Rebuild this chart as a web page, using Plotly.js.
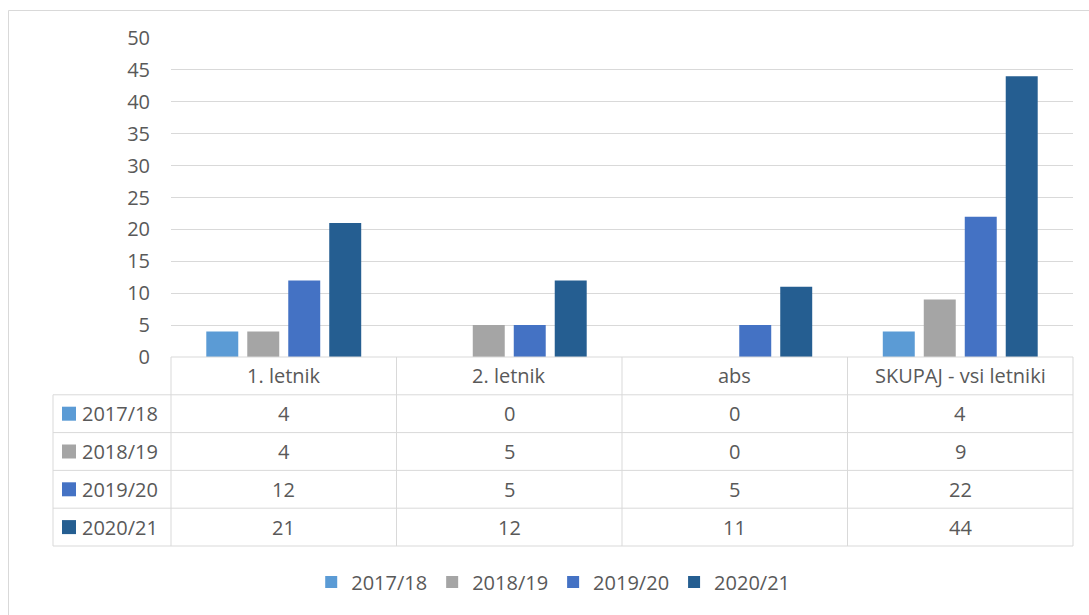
<!DOCTYPE html>
<html>
<head>
<meta charset="utf-8">
<script src="https://cdn.plot.ly/plotly-3.0.1.min.js"></script>
<style>html,body{margin:0;padding:0;background:#fff;}#chart{width:1089px;height:615px;}</style>
</head>
<body>
<div id="chart"></div>
<script>
const categories = ["1. letnik", "2. letnik", "abs", "SKUPAJ - vsi letniki"];
const seriesNames = ["2017/18", "2018/19", "2019/20", "2020/21"];
const v2017 = [4, 0, 0, 4];
const v2018 = [4, 5, 0, 9];
const v2019 = [12, 5, 5, 22];
const v2020 = [21, 12, 11, 44];
const seriesValues = [v2017, v2018, v2019, v2020];
const colors = ["#5B9BD5", "#A5A5A5", "#4472C4", "#255E91"];

const W = 1089, H = 615;
const px = x => x / W;
const py = y => 1 - y / H;
const textColor = "#595959";
const gridColor = "#D9D9D9";
const FONT = "Open Sans, Liberation Sans, sans-serif";
const FS = 20;

// geometry of plot/table (pixels)
const plotL = 171, plotR = 1073, plotT = 38, plotB = 357;
const tableL = 53, rowH = 37.8;
const catW = (plotR - plotL) / categories.length;

const traces = seriesNames.map((name, i) => ({
  type: "bar",
  name: name,
  x: categories,
  y: seriesValues[i],
  marker: {color: colors[i]},
  hoverinfo: "x+y+name"
}));

const shapes = [];
const annotations = [];
const line = {color: gridColor, width: 1};
// outer chart border
shapes.push({type: "rect", xref: "paper", yref: "paper", x0: px(8.5), x1: px(1100), y0: py(10.5), y1: py(630), line: {color: gridColor, width: 1}});
// table horizontal lines
shapes.push({type: "line", xref: "paper", yref: "paper", x0: px(plotL), x1: px(plotR), y0: py(plotB), y1: py(plotB), line});
for (let r = 1; r <= seriesNames.length + 1; r++) {
  const y = plotB + r * rowH;
  shapes.push({type: "line", xref: "paper", yref: "paper", x0: px(tableL), x1: px(plotR), y0: py(y), y1: py(y), line});
}
const tableB = plotB + (seriesNames.length + 1) * rowH;
// vertical lines
shapes.push({type: "line", xref: "paper", yref: "paper", x0: px(tableL), x1: px(tableL), y0: py(plotB + rowH), y1: py(tableB), line});
for (let c = 0; c <= categories.length; c++) {
  const x = plotL + c * catW;
  shapes.push({type: "line", xref: "paper", yref: "paper", x0: px(x), x1: px(x), y0: py(plotB), y1: py(tableB), line});
}
// header text
categories.forEach((cat, c) => {
  annotations.push({xref: "paper", yref: "paper", x: px(plotL + (c + 0.5) * catW), y: py(plotB + rowH / 2),
    text: cat, showarrow: false, xanchor: "center", yanchor: "middle", font: {family: FONT, size: FS, color: textColor}});
});
// rows
seriesNames.forEach((name, r) => {
  const yc = plotB + (r + 1.5) * rowH;
  shapes.push({type: "rect", xref: "paper", yref: "paper", x0: px(62), x1: px(76), y0: py(yc - 7), y1: py(yc + 7),
    fillcolor: colors[r], line: {width: 0}});
  annotations.push({xref: "paper", yref: "paper", x: px(80), y: py(yc), text: name, showarrow: false,
    xanchor: "left", yanchor: "middle", font: {family: FONT, size: FS, color: textColor}});
  seriesValues[r].forEach((v, c) => {
    annotations.push({xref: "paper", yref: "paper", x: px(plotL + (c + 0.5) * catW), y: py(yc), text: String(v),
      showarrow: false, xanchor: "center", yanchor: "middle", font: {family: FONT, size: FS, color: textColor}});
  });
});

const layout = {
  width: W, height: H,
  margin: {l: 0, r: 0, t: 0, b: 0},
  paper_bgcolor: "#fff", plot_bgcolor: "#fff",
  barmode: "group",
  bargap: 0.273,
  bargroupgap: 0.22,
  font: {family: FONT, size: FS, color: textColor},
  xaxis: {domain: [px(plotL), px(plotR)], showticklabels: false, showgrid: false, zeroline: false, showline: false, ticks: ""},
  yaxis: {domain: [py(plotB), py(plotT)], range: [0, 50], dtick: 5, tick0: 0, showgrid: true, gridcolor: gridColor, gridwidth: 1,
    zeroline: false, showline: false, ticks: "", ticklabelstandoff: 20,
    tickfont: {family: FONT, size: FS, color: textColor}},
  showlegend: true,
  legend: {orientation: "h", x: 0.508, xanchor: "center", y: py(582), yanchor: "middle",
    font: {family: FONT, size: FS, color: textColor}, itemwidth: 30, traceorder: "normal"},
  shapes: shapes,
  annotations: annotations
};

Plotly.newPlot("chart", traces, layout, {displayModeBar: false, staticPlot: true});
</script>
</body>
</html>
